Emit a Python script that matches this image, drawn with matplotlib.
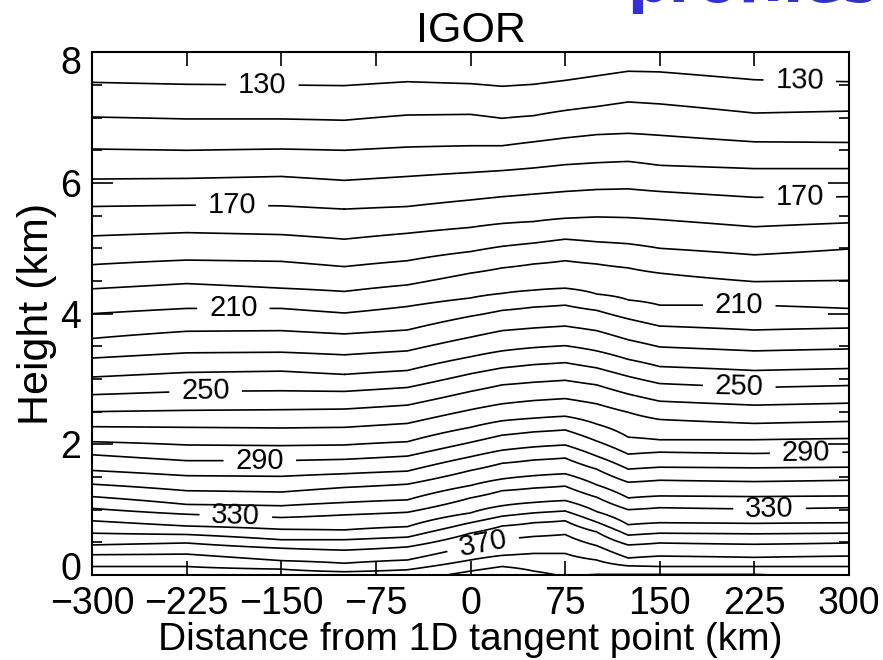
import numpy as np
import matplotlib
matplotlib.use('Agg')
import matplotlib.pyplot as plt
import matplotlib.transforms as mtransforms
from matplotlib.ticker import MultipleLocator

plt.rcParams['font.family'] = ['Liberation Sans', 'DejaVu Sans']

# distance columns (km) where contour heights were read
dist = [-300, -225, -150, -100, -50, 0, 25, 50, 75, 100, 125, 150, 225, 300]
levels = list(range(130, 400, 10))
labelled = [130, 170, 210, 250, 290, 330, 370]

# height (km) of each contour level at the columns above
h130 = [7.54, 7.51, 7.50, 7.49, 7.55, 7.52, 7.48, 7.51, 7.57, 7.64, 7.71, 7.70, 7.58, 7.55]
h140 = [7.01, 6.98, 6.98, 6.96, 7.04, 7.05, 6.99, 7.03, 7.11, 7.17, 7.24, 7.21, 7.07, 7.10]
h150 = [6.52, 6.50, 6.52, 6.50, 6.55, 6.57, 6.57, 6.63, 6.69, 6.74, 6.76, 6.73, 6.63, 6.62]
h160 = [6.06, 6.07, 6.10, 6.04, 6.10, 6.16, 6.19, 6.23, 6.28, 6.31, 6.33, 6.27, 6.22, 6.22]
h170 = [5.64, 5.66, 5.65, 5.60, 5.64, 5.74, 5.79, 5.83, 5.87, 5.90, 5.91, 5.87, 5.78, 5.79]
h180 = [5.19, 5.24, 5.21, 5.14, 5.23, 5.32, 5.38, 5.41, 5.46, 5.48, 5.47, 5.44, 5.33, 5.39]
h190 = [4.75, 4.82, 4.80, 4.72, 4.81, 4.95, 5.03, 5.08, 5.14, 5.10, 5.07, 5.00, 4.90, 4.99]
h200 = [4.38, 4.46, 4.39, 4.34, 4.44, 4.62, 4.70, 4.76, 4.81, 4.76, 4.70, 4.62, 4.49, 4.51]
h210 = [4.00, 4.08, 4.08, 4.01, 4.11, 4.24, 4.31, 4.36, 4.39, 4.30, 4.21, 4.13, 4.13, 4.08]
h220 = [3.62, 3.73, 3.74, 3.69, 3.75, 3.96, 4.05, 4.10, 4.13, 4.05, 3.92, 3.81, 3.75, 3.78]
h230 = [3.32, 3.40, 3.41, 3.37, 3.43, 3.64, 3.74, 3.78, 3.81, 3.74, 3.60, 3.49, 3.43, 3.46]
h240 = [3.03, 3.10, 3.12, 3.07, 3.13, 3.34, 3.43, 3.48, 3.51, 3.43, 3.30, 3.19, 3.13, 3.16]
h250 = [2.76, 2.81, 2.82, 2.81, 2.87, 3.08, 3.17, 3.22, 3.25, 3.17, 3.04, 2.93, 2.87, 2.90]
h260 = [2.50, 2.52, 2.53, 2.54, 2.60, 2.81, 2.91, 2.95, 2.98, 2.91, 2.77, 2.66, 2.60, 2.63]
h270 = [2.27, 2.26, 2.25, 2.26, 2.32, 2.53, 2.62, 2.67, 2.70, 2.62, 2.49, 2.38, 2.32, 2.35]
h280 = [2.04, 1.99, 1.98, 1.99, 2.04, 2.26, 2.36, 2.40, 2.43, 2.31, 2.11, 2.07, 2.07, 2.09]
h290 = [1.84, 1.75, 1.75, 1.77, 1.82, 2.03, 2.14, 2.19, 2.22, 2.05, 1.85, 1.88, 1.86, 1.88]
h300 = [1.60, 1.52, 1.51, 1.55, 1.59, 1.81, 1.91, 1.96, 1.99, 1.82, 1.62, 1.65, 1.64, 1.65]
h310 = [1.39, 1.29, 1.27, 1.34, 1.39, 1.60, 1.71, 1.76, 1.79, 1.62, 1.42, 1.45, 1.43, 1.45]
h320 = [1.20, 1.08, 1.06, 1.11, 1.15, 1.37, 1.47, 1.52, 1.55, 1.38, 1.18, 1.21, 1.20, 1.21]
h330 = [1.02, 0.93, 0.88, 0.92, 0.96, 1.18, 1.29, 1.33, 1.36, 1.19, 1.00, 1.03, 1.01, 1.03]
h340 = [0.83, 0.75, 0.70, 0.69, 0.74, 0.95, 1.06, 1.11, 1.14, 0.97, 0.77, 0.80, 0.79, 0.80]
h350 = [0.64, 0.62, 0.54, 0.54, 0.58, 0.80, 0.90, 0.95, 0.98, 0.81, 0.61, 0.64, 0.63, 0.64]
h360 = [0.46, 0.49, 0.41, 0.38, 0.43, 0.64, 0.75, 0.80, 0.83, 0.66, 0.46, 0.49, 0.47, 0.49]
h370 = [0.31, 0.32, 0.22, 0.18, 0.23, 0.44, 0.55, 0.59, 0.62, 0.45, 0.26, 0.29, 0.27, 0.29]
h380 = [0.13, 0.13, 0.09, 0.05, 0.08, 0.23, 0.30, 0.33, 0.33, 0.23, 0.14, 0.13, 0.13, 0.13]
h390 = [-0.12, -0.12, -0.15, -0.13, -0.11, 0.06, 0.13, 0.06, -0.03, 0.01, 0.01, 0.01, 0.01, -0.06]

heights = np.array([h130, h140, h150, h160, h170, h180, h190, h200, h210,
                    h220, h230, h240, h250, h260, h270, h280, h290, h300,
                    h310, h320, h330, h340, h350, h360, h370, h380, h390])

# where the contour labels sit (km, km)
label_pos = [(-165, 7.5), (-189, 5.65), (-188, 4.08), (-210, 2.81), (-167, 1.76),
             (-186, 0.9), (10, 0.48),
             (261, 7.56), (261, 5.79), (213, 4.13), (213, 2.88), (266, 1.88), (237, 1.02)]

# build the field column by column from the contour heights,
# carrying the end gradients one step past the first/last level
z = np.linspace(-0.5, 8.5, 1801)
lev = np.array(levels, dtype=float)
field = np.empty((len(z), len(dist)))
for j in range(len(dist)):
    zs = heights[::-1, j]
    vs = lev[::-1]
    zs = np.concatenate([[2 * zs[0] - zs[1]], zs, [2 * zs[-1] - zs[-2]]])
    vs = np.concatenate([[vs[0] + 10], vs, [vs[-1] - 10]])
    field[:, j] = np.interp(z, zs, vs)

fig = plt.figure(figsize=(8.83, 6.6), dpi=100)
ax = fig.add_axes([92 / 883, 85 / 660, 757 / 883, 522.7 / 660])

plain = [l for l in levels if l not in labelled]
ax.contour(dist, z, field, levels=plain, colors='k', linewidths=1.2)
cs = ax.contour(dist, z, field, levels=labelled, colors='k', linewidths=1.2)
ax.clabel(cs, manual=label_pos, inline=True, inline_spacing=12, fmt='%d', fontsize=21)

ax.set_xlim(-300, 300)
ax.set_ylim(0, 8)
ax.set_xticks(np.arange(-300, 301, 75))
ax.set_yticks([0, 2, 4, 6, 8])
ax.yaxis.set_minor_locator(MultipleLocator(0.5))
ax.tick_params(axis='both', which='both', direction='in', top=True, right=True,
               labelsize=27, width=1.2)
ax.tick_params(axis='x', which='major', length=10, pad=8)
ax.tick_params(axis='y', which='major', length=15, pad=8)
ax.tick_params(axis='y', which='minor', length=7)
for s in ax.spines.values():
    s.set_linewidth(1.5)

# end labels of the height axis sit inside the axis range, as in the original
yt = ax.yaxis.get_major_ticks()
yt[0].label1.set_transform(yt[0].label1.get_transform() +
                           mtransforms.ScaledTranslation(0, 9 / 100, fig.dpi_scale_trans))
yt[-1].label1.set_transform(yt[-1].label1.get_transform() +
                            mtransforms.ScaledTranslation(0, -8 / 100, fig.dpi_scale_trans))

ax.set_xlabel('Distance from 1D tangent point (km)', fontsize=28, labelpad=0)
ax.set_ylabel('Height (km)', fontsize=31, labelpad=2)
ax.set_title('IGOR', fontsize=31, pad=7.5)

fig.text(627 / 883, 1 - 1.5 / 660, 'profiles', fontsize=42, fontweight='bold',
         family='DejaVu Sans', color='#3333cc', ha='left', va='baseline')

fig.savefig('out.png', dpi=100)
